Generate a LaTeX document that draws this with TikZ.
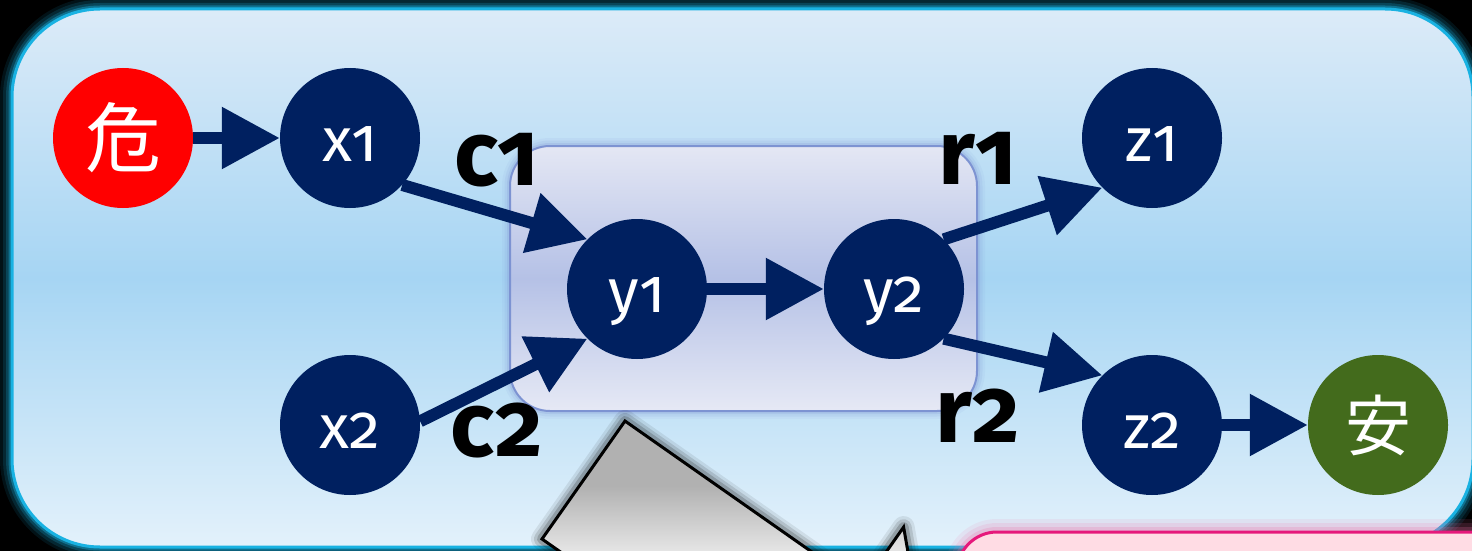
\documentclass[tikz,border=0pt]{standalone}
\usepackage{fontspec}
\setsansfont{Fira Sans}[Numbers=OldStyle]
\newfontfamily\cjk{Noto Sans CJK JP}
\usetikzlibrary{arrows.meta}

\definecolor{navy}{HTML}{002060}
\definecolor{danger}{HTML}{FF0000}
\definecolor{safe}{HTML}{436B1C}
\definecolor{skytop}{HTML}{DCEBF8}
\definecolor{skymid}{HTML}{A6D5F3}
\definecolor{skybot}{HTML}{E3F1FB}
\definecolor{frameline}{HTML}{19B2E2}
\definecolor{grouptop}{HTML}{E4E7F4}
\definecolor{groupmid}{HTML}{B5C1E6}
\definecolor{groupbot}{HTML}{E6E9F5}
\definecolor{groupline}{HTML}{7D93D2}
\definecolor{pinkfill}{HTML}{FFDCE4}
\definecolor{pinkline}{HTML}{E6187B}
\definecolor{pinkglow}{HTML}{EE6FA6}
\definecolor{steel}{HTML}{B1B1B1}
\definecolor{steellight}{HTML}{ECECEC}

\begin{document}
\begin{tikzpicture}[x=1pt,y=-1pt,
  vert/.style={circle, fill=navy, minimum size=140pt, inner sep=0pt,
    text=white, text height=47pt, text depth=0pt,
    font=\sffamily\fontsize{62}{62}\selectfont},
  ends/.style={circle, minimum size=140pt, inner sep=0pt, text=white},
  link/.style={draw=navy, line width=12pt,
    -{Triangle[length=58pt,width=59pt]}},
  weight/.style={anchor=base, inner sep=0pt,
    font=\sffamily\bfseries\fontsize{92}{92}\selectfont},
  glow/.style={draw=#1, line join=round},
]
\useasboundingbox (0,0) rectangle (1472,551);
\fill[black] (0,0) rectangle (1472,551);

% outer panel: halo, gradient fill and rim
\foreach \w/\o in {24/0.10, 18/0.14, 12/0.22, 7/0.4}
  \draw[glow=frameline, rounded corners=88pt, line width=\w pt, opacity=\o]
    (12,9) rectangle (1473,547);
\shade[rounded corners=88pt, top color=skytop, bottom color=skybot, middle color=skymid]
  (12,9) rectangle (1473,547);
\draw[rounded corners=88pt, line width=3pt, draw=frameline]
  (12,9) rectangle (1473,547);

% group box around y1 and y2
\foreach \w/\o in {16/0.08, 11/0.12, 6/0.2}
  \draw[glow=groupline, rounded corners=40pt, line width=\w pt, opacity=\o]
    (510,146) rectangle (977,411);
\shade[rounded corners=40pt, top color=grouptop, bottom color=groupbot, middle color=groupmid]
  (510,146) rectangle (977,411);
\draw[rounded corners=40pt, line width=2pt, draw=groupline]
  (510,146) rectangle (977,411);

% nodes
\node[ends, fill=danger, font=\cjk\fontsize{76}{76}\selectfont] (danger) at (123,138) {危};
\node[vert] (x1) at (350,138) {x1};
\node[vert] (x2) at (350,425) {x2};
\node[vert] (y1) at (637,289) {y1};
\node[vert] (y2) at (894,289) {y2};
\node[vert] (z1) at (1152,138) {z1};
\node[vert] (z2) at (1152,425) {z2};
\node[ends, fill=safe, font=\cjk\fontsize{66}{66}\selectfont] (safe) at (1378,425) {安};

% connectors
\draw[link] (danger.east) -- (x1.west);
\draw[link] (x1.-42) -- (y1.135);
\draw[link] (x2.3) -- (y1.225);
\draw[link] (y1.east) -- (y2.west);
\draw[link] (y2.45) -- (z1.225);
\draw[link] (y2.-45) -- (z2.135);
\draw[link] (z2.east) -- (safe.west);

% weights
\node[weight] (c1) at (497,185) {c1};
\node[weight] (c2) at (497,456) {c2};
\node[weight] (r1) at (978,184) {r1};
\node[weight] (r2) at (978,442) {r2};

% big grey block arrow with soft shadow
\def\blockarrow{(625,421) -- (861.7,586.9) -- (903.6,527.1) -- (939,729)
  -- (736.8,764.7) -- (778.7,704.9) -- (542,539) -- cycle}
\foreach \w/\o in {22/0.08, 16/0.12, 10/0.18}
  \draw[glow=black, line width=\w pt, opacity=\o] \blockarrow;
\begin{scope}
  \clip \blockarrow;
  % light sheen towards the lower left corner
  \shade[shading angle=-35, top color=steel, bottom color=steellight, middle color=steel]
    (536,412) rectangle (915,560);
\end{scope}
\draw[line width=3pt, line join=miter] \blockarrow;

% pink panel at the lower right
\foreach \w/\o in {26/0.10, 18/0.14, 10/0.22}
  \draw[glow=pinkglow, rounded corners=40pt, line width=\w pt, opacity=\o]
    (957,532) rectangle (1540,640);
\fill[pinkfill, rounded corners=40pt] (957,532) rectangle (1540,640);
\draw[pinkline, line width=3pt, rounded corners=40pt] (957,532) rectangle (1540,640);
\end{tikzpicture}
\end{document}
